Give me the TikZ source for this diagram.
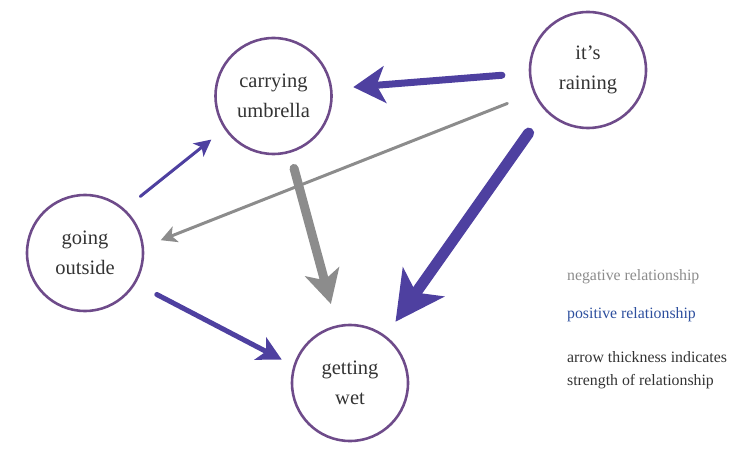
\documentclass[tikz,border=0pt]{standalone}
\usepackage{fontspec}
\setmainfont{Liberation Serif}
\usetikzlibrary{arrows.meta}
\definecolor{ringc}{HTML}{6E4B8A}
\definecolor{posc}{HTML}{4E40A0}
\definecolor{negc}{HTML}{8C8C8C}
\definecolor{legblue}{HTML}{2D4F9E}
\definecolor{txtc}{HTML}{333333}
\begin{document}
\begin{tikzpicture}[x=0.03cm,y=-0.03cm,
    factor/.style={circle,draw=ringc,line width=2.2pt,minimum size=3.48cm,inner sep=0pt,
      align=center,text=txtc,font=\fontsize{17.5}{25.5}\selectfont},
    poslink/.style={draw=posc,line cap=round},
    neglink/.style={draw=negc,line cap=round},
    legend/.style={anchor=west,align=left,font=\fontsize{13.5}{19.6}\selectfont}]
  \useasboundingbox (0,0) rectangle (737,457);
  % the four factors
  \node[factor] (umb) at (273.5,96) {carrying\\umbrella};
  \node[factor] (rain) at (588,70) {it's\\raining};
  \node[factor] (out) at (85,253) {going\\outside};
  \node[factor] (wet) at (350,383) {getting\\wet};
  % links
  \draw[poslink,line width=0.21cm,-{Stealth[length=0.95cm,width=1.1cm,inset=0.25cm]},
    shorten <=0.81cm,shorten >=0.63cm] (rain.183) -- (umb.7);
  \draw[neglink,line width=0.09cm,-{Stealth[length=0.48cm,width=0.5cm,inset=0.13cm]},
    shorten <=0.84cm,shorten >=0.54cm] (rain.203) -- (out.6);
  \draw[poslink,line width=0.33cm,-{Stealth[length=1.45cm,width=1.5cm,inset=0.38cm]},
    shorten <=0.83cm,shorten >=0.51cm] (rain.223) -- (wet.53);
  \draw[neglink,line width=0.27cm,-{Stealth[length=1cm,width=1.05cm,inset=0.26cm]},
    shorten <=0.48cm,shorten >=0.66cm] (umb.-74) -- (wet.103);
  \draw[poslink,line width=0.09cm,-{Stealth[length=0.5cm,width=0.5cm,inset=0.13cm]},
    shorten <=0.6cm,shorten >=0.5cm] (out.48) -- (umb.214);
  \draw[poslink,line width=0.15cm,-{Stealth[length=0.72cm,width=0.75cm,inset=0.19cm]},
    shorten <=0.71cm,shorten >=0.39cm] (out.-31) -- (wet.163);
  % legend
  \node[legend,text=negc] (neglab) at (563,277) {negative relationship};
  \node[legend,text=legblue] (poslab) at (563,315) {positive relationship};
  \node[legend,text=txtc] (thicklab) at (563,370) {arrow thickness indicates\\strength of relationship};
\end{tikzpicture}
\end{document}
